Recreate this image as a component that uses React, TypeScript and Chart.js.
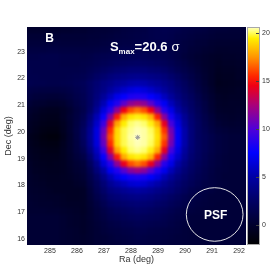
import React, { useEffect, useRef } from 'react';
import { Chart, registerables } from 'chart.js';

Chart.register(...registerables);

const FONT = '"Liberation Sans", Arial, Helvetica, sans-serif';
Chart.defaults.font.family = FONT;

// Cell centres of the significance map (deg)
const raCenters = [284.25, 284.5, 284.75, 285, 285.25, 285.5, 285.75, 286, 286.25, 286.5, 286.75, 287, 287.25, 287.5, 287.75, 288, 288.25, 288.5, 288.75, 289, 289.25, 289.5, 289.75, 290, 290.25, 290.5, 290.75, 291, 291.25, 291.5, 291.75, 292, 292.25];
const decCenters = [23.8, 23.55, 23.3, 23.05, 22.8, 22.55, 22.3, 22.05, 21.8, 21.55, 21.3, 21.05, 20.8, 20.55, 20.3, 20.05, 19.8, 19.55, 19.3, 19.05, 18.8, 18.55, 18.3, 18.05, 17.8, 17.55, 17.3, 17.05, 16.8, 16.55, 16.3, 16.05, 15.8];

// Significance (sigma): one row per decCenters entry, one column per raCenters entry
const significance = [
  [0, 0, 0, 0, 0, 0.1, 0.1, 0.2, 0.2, 0.3, 0.4, 0.4, 0.5, 0.6, 0.8, 0.9, 1, 1.1, 1.3, 1.4, 1.5, 1.4, 1.3, 1.1, 1, 0.9, 0.8, 0.6, 0.5, 0.5, 0.4, 0.4, 0.3],
  [0.3, 0.3, 0.3, 0.3, 0.3, 0.4, 0.4, 0.4, 0.4, 0.5, 0.5, 0.6, 0.7, 0.8, 0.9, 1, 1.1, 1.2, 1.3, 1.4, 1.4, 1.3, 1.1, 1, 0.8, 0.7, 0.6, 0.4, 0.3, 0.3, 0.3, 0.3, 0.2],
  [0.6, 0.6, 0.6, 0.6, 0.7, 0.6, 0.6, 0.6, 0.6, 0.7, 0.7, 0.8, 0.9, 1, 1.1, 1.1, 1.2, 1.3, 1.3, 1.3, 1.4, 1.2, 1, 0.8, 0.7, 0.5, 0.4, 0.2, 0.1, 0.1, 0.1, 0.1, 0.2],
  [0.9, 0.9, 0.9, 1, 1, 0.9, 0.9, 0.9, 0.9, 0.9, 1, 1.1, 1.2, 1.3, 1.4, 1.4, 1.5, 1.5, 1.5, 1.5, 1.4, 1.2, 1, 0.8, 0.5, 0.4, 0.2, 0.1, -0.1, -0.1, 0, 0, 0.1],
  [1.2, 1.2, 1.3, 1.3, 1.3, 1.2, 1.2, 1.2, 1.1, 1.2, 1.4, 1.5, 1.6, 1.7, 1.7, 1.8, 1.8, 1.8, 1.7, 1.7, 1.6, 1.3, 1, 0.7, 0.4, 0.2, 0, -0.2, -0.3, -0.2, -0.2, -0.1, 0],
  [1.3, 1.3, 1.3, 1.3, 1.3, 1.2, 1.2, 1.2, 1.3, 1.4, 1.6, 1.8, 2, 2.2, 2.3, 2.4, 2.5, 2.4, 2.3, 2.2, 2, 1.7, 1.3, 1, 0.6, 0.3, 0, -0.2, -0.4, -0.3, -0.3, -0.2, -0.1],
  [1.4, 1.3, 1.3, 1.3, 1.3, 1.3, 1.3, 1.3, 1.4, 1.7, 2, 2.3, 2.6, 2.9, 3, 3.2, 3.2, 3.2, 3, 2.9, 2.6, 2.2, 1.7, 1.3, 0.9, 0.5, 0.1, -0.2, -0.5, -0.4, -0.4, -0.3, -0.2],
  [1.4, 1.4, 1.3, 1.3, 1.3, 1.3, 1.4, 1.5, 1.6, 2, 2.5, 2.9, 3.3, 3.6, 3.8, 4, 4.1, 4, 3.8, 3.6, 3.3, 2.8, 2.3, 1.7, 1.2, 0.7, 0.2, -0.2, -0.6, -0.5, -0.5, -0.3, -0.2],
  [1.5, 1.4, 1.4, 1.3, 1.3, 1.4, 1.5, 1.7, 1.9, 2.5, 3, 3.6, 4, 4.5, 4.8, 5.2, 5.3, 5.2, 4.8, 4.5, 4, 3.5, 2.8, 2.2, 1.5, 0.9, 0.3, -0.2, -0.7, -0.6, -0.5, -0.4, -0.3],
  [1.1, 1, 0.9, 0.9, 0.9, 1, 1.2, 1.5, 1.8, 2.5, 3.2, 3.8, 4.7, 5.4, 6, 6.5, 6.8, 6.5, 6, 5.4, 4.7, 3.9, 3.2, 2.5, 1.8, 1.1, 0.5, 0, -0.5, -0.5, -0.4, -0.3, -0.2],
  [0.8, 0.6, 0.5, 0.4, 0.4, 0.6, 0.9, 1.3, 1.7, 2.5, 3.4, 4.5, 5.7, 6.9, 7.6, 8.3, 8.5, 8.3, 7.6, 6.9, 5.7, 4.6, 3.6, 2.8, 2.2, 1.4, 0.7, 0.2, -0.3, -0.4, -0.3, -0.3, -0.2],
  [0.4, 0.2, 0.1, -0.1, -0.1, 0.1, 0.6, 1.1, 1.6, 2.5, 3.8, 5.4, 7.2, 8.5, 10.3, 11.7, 12.2, 11.7, 10.3, 8.5, 7.2, 5.6, 4.3, 3.2, 2.5, 1.7, 1, 0.3, -0.2, -0.3, -0.2, -0.2, -0.1],
  [0, -0.2, -0.5, -0.6, -0.6, -0.3, 0.2, 0.8, 1.4, 2.7, 4.4, 6.5, 8.7, 11.7, 14.5, 16.2, 16.9, 16.2, 14.5, 11.7, 8.7, 6.8, 5, 3.7, 2.7, 1.9, 1.1, 0.4, -0.1, -0.2, -0.2, -0.1, 0],
  [-0.2, -0.4, -0.7, -0.8, -0.8, -0.3, 0.3, 0.9, 1.7, 3.3, 5.4, 7.8, 11.5, 15.2, 18, 19.2, 19.5, 19.2, 18.1, 15.3, 11.5, 8.2, 6, 4.3, 3, 2.1, 1.3, 0.7, 0.1, 0, -0.1, 0, 0.1],
  [-0.4, -0.6, -0.9, -1, -1, -0.5, 0.2, 1, 2, 3.8, 6, 9.3, 14, 17.8, 19.4, 20.1, 20.3, 20.1, 19.5, 18, 14.2, 9.7, 6.7, 4.7, 3.2, 2.3, 1.5, 0.9, 0.4, 0.2, 0.1, 0.2, 0.2],
  [-0.5, -0.8, -1.1, -1.2, -1.2, -0.6, 0.2, 1.1, 2.3, 4.2, 6.6, 10.6, 15.5, 18.9, 19.9, 20.3, 20.5, 20.4, 20, 18.9, 15.7, 11, 7.2, 5.1, 3.3, 2.3, 1.7, 1.1, 0.7, 0.5, 0.3, 0.3, 0.4],
  [-0.7, -1, -1.3, -1.5, -1.5, -0.8, 0.1, 1, 2.3, 4.3, 6.6, 11, 16.1, 19, 19.9, 20.4, 20.6, 20.4, 20.1, 19.1, 16.4, 11.4, 7.3, 5.1, 3.3, 2.3, 1.8, 1.3, 0.9, 0.7, 0.5, 0.5, 0.5],
  [-0.6, -0.9, -1.1, -1.2, -1.2, -0.6, 0.1, 0.9, 2.1, 4.1, 6.5, 10.5, 15.5, 18.9, 19.9, 20.3, 20.5, 20.4, 20, 18.9, 15.7, 11, 7.2, 5.1, 3.3, 2.4, 1.8, 1.3, 0.9, 0.7, 0.5, 0.5, 0.5],
  [-0.5, -0.7, -0.9, -1, -1, -0.5, 0.1, 0.8, 1.7, 3.6, 5.8, 9.3, 14, 17.8, 19.4, 20.1, 20.3, 20.1, 19.5, 18, 14.2, 9.7, 6.7, 4.7, 3.2, 2.4, 1.8, 1.3, 0.9, 0.7, 0.5, 0.5, 0.5],
  [-0.4, -0.6, -0.8, -0.8, -0.8, -0.5, 0, 0.6, 1.2, 2.9, 5.2, 7.7, 11.5, 15.2, 18, 19.2, 19.5, 19.2, 18.1, 15.3, 11.5, 8.2, 6, 4.3, 3, 2.3, 1.7, 1.2, 0.8, 0.6, 0.5, 0.5, 0.5],
  [-0.3, -0.5, -0.6, -0.7, -0.6, -0.5, -0.1, 0.3, 0.7, 2.2, 4, 6.4, 8.7, 11.7, 14.3, 16.2, 16.9, 16.2, 14.3, 11.7, 8.7, 6.8, 5, 3.7, 2.7, 2.1, 1.6, 1.1, 0.8, 0.6, 0.5, 0.5, 0.5],
  [-0.2, -0.4, -0.5, -0.6, -0.6, -0.5, -0.2, 0.2, 0.5, 1.7, 3.3, 5, 7.1, 8.5, 10.2, 11.6, 12.2, 11.6, 10.2, 8.5, 7, 5.5, 4.2, 3.2, 2.5, 1.9, 1.4, 1, 0.7, 0.6, 0.5, 0.5, 0.5],
  [-0.1, -0.3, -0.4, -0.5, -0.5, -0.4, -0.3, 0, 0.3, 1.3, 2.5, 3.9, 5.4, 6.6, 7.4, 8.1, 8.3, 8.1, 7.4, 6.6, 5.4, 4.4, 3.5, 2.8, 2.2, 1.7, 1.3, 0.9, 0.7, 0.5, 0.5, 0.5, 0.5],
  [-0.1, -0.2, -0.3, -0.4, -0.4, -0.4, -0.4, -0.2, 0, 1, 2, 3.1, 4.3, 5.1, 5.6, 6.2, 6.4, 6.2, 5.6, 5.1, 4.3, 3.6, 3, 2.4, 1.9, 1.5, 1.1, 0.9, 0.7, 0.6, 0.5, 0.5, 0.5],
  [0, -0.1, -0.2, -0.3, -0.4, -0.4, -0.4, -0.4, -0.3, 0.7, 1.7, 2.6, 3.5, 3.9, 4.3, 4.6, 4.8, 4.6, 4.3, 3.9, 3.5, 3.1, 2.6, 2.1, 1.5, 1.2, 1, 0.8, 0.6, 0.6, 0.5, 0.5, 0.5],
  [0.1, 0, -0.1, -0.2, -0.2, -0.3, -0.4, -0.4, -0.3, 0.5, 1.3, 2.1, 2.9, 3.2, 3.5, 3.7, 3.8, 3.7, 3.5, 3.2, 2.9, 2.5, 2.1, 1.6, 1.2, 1, 0.8, 0.6, 0.6, 0.5, 0.5, 0.5, 0.5],
  [0.2, 0.1, 0, 0, -0.1, -0.2, -0.3, -0.3, -0.3, 0.3, 0.9, 1.6, 2.3, 2.6, 2.8, 3, 3.1, 3, 2.9, 2.6, 2.4, 2, 1.7, 1.3, 1, 0.8, 0.7, 0.6, 0.5, 0.5, 0.5, 0.5, 0.5],
  [0.2, 0.2, 0.2, 0.1, 0.1, 0, -0.1, -0.2, -0.3, 0.2, 0.7, 1.2, 1.7, 2, 2.2, 2.4, 2.6, 2.5, 2.3, 2.1, 1.9, 1.6, 1.3, 1, 0.8, 0.7, 0.6, 0.5, 0.5, 0.5, 0.5, 0.5, 0.5],
  [0.3, 0.3, 0.3, 0.3, 0.3, 0.2, 0, -0.1, -0.2, 0.2, 0.6, 1, 1.4, 1.6, 1.8, 2, 2.1, 2, 1.9, 1.8, 1.6, 1.3, 1.1, 0.9, 0.6, 0.6, 0.5, 0.5, 0.5, 0.5, 0.5, 0.5, 0.5],
  [0.3, 0.3, 0.3, 0.3, 0.3, 0.2, 0, -0.1, -0.2, 0.1, 0.4, 0.7, 1, 1.2, 1.4, 1.5, 1.7, 1.6, 1.5, 1.4, 1.3, 1.1, 0.9, 0.7, 0.6, 0.5, 0.5, 0.5, 0.5, 0.5, 0.5, 0.5, 0.5],
  [0.3, 0.3, 0.3, 0.3, 0.3, 0.2, 0.1, 0, -0.2, 0.1, 0.3, 0.6, 0.8, 0.9, 1.1, 1.2, 1.3, 1.3, 1.2, 1.1, 1, 0.9, 0.8, 0.6, 0.5, 0.5, 0.5, 0.5, 0.5, 0.5, 0.5, 0.5, 0.5],
  [0.3, 0.3, 0.3, 0.3, 0.3, 0.2, 0.1, 0, -0.1, 0.1, 0.3, 0.4, 0.6, 0.8, 0.9, 1, 1.2, 1.1, 1, 1, 0.9, 0.8, 0.7, 0.6, 0.5, 0.5, 0.5, 0.5, 0.5, 0.5, 0.5, 0.5, 0.5],
  [0.3, 0.3, 0.3, 0.3, 0.3, 0.2, 0.2, 0.1, 0, 0.1, 0.3, 0.4, 0.5, 0.6, 0.8, 0.9, 1, 1, 0.9, 0.9, 0.8, 0.7, 0.7, 0.6, 0.5, 0.5, 0.5, 0.5, 0.5, 0.5, 0.5, 0.5, 0.5],
];

const raTicks = [285, 286, 287, 288, 289, 290, 291, 292];
const decTicks = [16, 17, 18, 19, 20, 21, 22, 23];
const colorbarTicks = [0, 5, 10, 15, 20];

const peakRa = 288.25;
const peakDec = 19.8;
const sMax = 20.6;
const panelLabel = 'B';
const psfRa = 291.1;
const psfDec = 16.92;
const psfRadiusRa = 1.05;
const psfRadiusDec = 1.0;

// axis ranges
const RA_MIN = 284.15;
const RA_MAX = 292.26;
const DEC_MIN = 15.78;
const DEC_MAX = 23.92;
const CB_MIN = -2.1;
const CB_MAX = 20.6;
const CELL_DEG = 0.25;
const HEAT_INDEX = 1;

// colour map (value -> rgb)
const colorStops: [number, [number, number, number]][] = [
  [-2.1, [0, 0, 0]],
  [0, [0, 0, 45]],
  [2.5, [0, 0, 100]],
  [5, [0, 0, 165]],
  [7.5, [0, 0, 255]],
  [10, [80, 0, 215]],
  [12.5, [170, 0, 120]],
  [14.5, [240, 0, 20]],
  [15.5, [255, 40, 0]],
  [17.5, [255, 150, 0]],
  [19.4, [255, 238, 0]],
  [20.1, [255, 255, 110]],
  [20.6, [255, 255, 200]],
];

function rgb(c: number[]) {
  return `rgb(${Math.round(c[0])},${Math.round(c[1])},${Math.round(c[2])})`;
}

function colorAt(v: number) {
  if (v <= colorStops[0][0]) return rgb(colorStops[0][1]);
  for (let k = 1; k < colorStops.length; k++) {
    const [v1, c1] = colorStops[k];
    if (v <= v1) {
      const [v0, c0] = colorStops[k - 1];
      const t = (v - v0) / (v1 - v0);
      return rgb([0, 1, 2].map((q) => c0[q] + (c1[q] - c0[q]) * t));
    }
  }
  return rgb(colorStops[colorStops.length - 1][1]);
}

function cellRadius(c: any) {
  const xs = c.chart.scales.x;
  const ys = c.chart.scales.y;
  if (!xs || !ys) return 4;
  const w = Math.abs(xs.getPixelForValue(RA_MIN + CELL_DEG) - xs.getPixelForValue(RA_MIN));
  const h = Math.abs(ys.getPixelForValue(DEC_MIN + CELL_DEG) - ys.getPixelForValue(DEC_MIN));
  const side = Math.max(w, h) + 0.8;
  return Number.isFinite(side) && side > 1 ? side / (2 * Math.SQRT1_2) : 4;
}

const overlayPlugin = {
  id: 'mapOverlay',
  // smooth the cell mosaic like an interpolated image display
  afterDatasetDraw(chart: any, args: any) {
    if (args.index !== HEAT_INDEX) return;
    const { ctx, chartArea: a, canvas } = chart;
    const tmp = document.createElement('canvas');
    tmp.width = canvas.width;
    tmp.height = canvas.height;
    const tctx = tmp.getContext('2d');
    if (!tctx) return;
    tctx.drawImage(canvas, 0, 0);
    ctx.save();
    ctx.setTransform(1, 0, 0, 1, 0, 0);
    const r = chart.currentDevicePixelRatio || 1;
    ctx.beginPath();
    ctx.rect(a.left * r, a.top * r, (a.right - a.left) * r, (a.bottom - a.top) * r);
    ctx.clip();
    ctx.filter = `blur(${1.8 * r}px)`;
    ctx.drawImage(tmp, 0, 0);
    ctx.filter = 'none';
    ctx.restore();
  },
  afterDatasetsDraw(chart: any) {
    const { ctx, chartArea: a, scales } = chart;
    const xs = scales.x;
    const ys = scales.y;
    ctx.save();
    ctx.beginPath();
    ctx.rect(a.left, a.top, a.right - a.left, a.bottom - a.top);
    ctx.clip();

    // PSF circle
    const cx = xs.getPixelForValue(psfRa);
    const cy = ys.getPixelForValue(psfDec);
    const rx = Math.abs(xs.getPixelForValue(psfRa + psfRadiusRa) - cx);
    const ry = Math.abs(ys.getPixelForValue(psfDec + psfRadiusDec) - cy);
    ctx.strokeStyle = 'rgba(240,240,240,0.95)';
    ctx.lineWidth = 1;
    ctx.beginPath();
    ctx.ellipse(cx, cy, rx, ry, 0, 0, Math.PI * 2);
    ctx.stroke();

    ctx.fillStyle = '#ffffff';
    ctx.font = `bold 12px ${FONT}`;
    ctx.textAlign = 'center';
    ctx.textBaseline = 'middle';
    ctx.fillText('PSF', cx + 1, cy + 1);

    // panel label
    ctx.textAlign = 'left';
    ctx.textBaseline = 'alphabetic';
    ctx.font = `bold 12px ${FONT}`;
    ctx.fillText(panelLabel, xs.getPixelForValue(284.83), ys.getPixelForValue(23.37));

    // S_max text
    let tx = xs.getPixelForValue(287.22);
    const ty = ys.getPixelForValue(23.04);
    ctx.font = `bold 13px ${FONT}`;
    ctx.fillText('S', tx, ty);
    tx += ctx.measureText('S').width;
    ctx.font = `bold 8px ${FONT}`;
    ctx.fillText('max', tx, ty + 3);
    tx += ctx.measureText('max').width;
    ctx.font = `bold 13px ${FONT}`;
    const val = `=${sMax.toFixed(1)}`;
    ctx.fillText(val, tx, ty);
    tx += ctx.measureText(val).width + 4;
    ctx.font = `13px ${FONT}`;
    ctx.fillText('\u03C3', tx, ty);
    ctx.restore();
  },
  afterDraw(chart: any) {
    const { ctx, chartArea: a } = chart;
    const cb = chart.scales.cb;
    if (!cb) return;
    const x0 = a.right + 1;
    const w = 13;
    const yTop = cb.getPixelForValue(CB_MAX);
    const yBot = cb.getPixelForValue(CB_MIN);
    ctx.save();
    const g = ctx.createLinearGradient(0, yBot, 0, yTop);
    colorStops.forEach(([v, c]) => {
      const t = Math.min(1, Math.max(0, (v - CB_MIN) / (CB_MAX - CB_MIN)));
      g.addColorStop(t, rgb(c));
    });
    ctx.fillStyle = g;
    ctx.fillRect(x0, yTop, w, yBot - yTop);
    ctx.strokeStyle = '#a8a8a8';
    ctx.lineWidth = 1;
    ctx.strokeRect(x0 + 0.5, yTop + 0.5, w - 1, yBot - yTop - 1);
    ctx.strokeStyle = '#404040';
    ctx.beginPath();
    colorbarTicks.forEach((v) => {
      const y = Math.round(cb.getPixelForValue(v)) + 0.5;
      ctx.moveTo(x0 + w - 4, y);
      ctx.lineTo(x0 + w - 1, y);
    });
    ctx.stroke();
    ctx.restore();
  },
};

export default function App() {
  const ref = useRef<HTMLCanvasElement>(null);

  useEffect(() => {
    if (!ref.current) return;
    const cells: { x: number; y: number; v: number }[] = [];
    decCenters.forEach((dec, j) => {
      const row = significance[j] || [];
      raCenters.forEach((ra, i) => {
        if (row[i] !== undefined) cells.push({ x: ra, y: dec, v: row[i] });
      });
    });

    const tickFont = { family: FONT, size: 7 };
    const chart = new Chart(ref.current, {
      type: 'scatter',
      data: {
        datasets: [
          {
            label: 'peak',
            data: [{ x: peakRa, y: peakDec }],
            order: 1,
            pointStyle: 'star',
            pointRadius: 2.5,
            pointHoverRadius: 2.5,
            pointBorderColor: '#9a9a9a',
            pointBorderWidth: 1,
            pointBackgroundColor: 'rgba(0,0,0,0)',
          } as any,
          {
            label: 'significance',
            data: cells,
            order: 2,
            pointStyle: 'rect',
            pointRadius: cellRadius,
            pointHoverRadius: cellRadius,
            pointBackgroundColor: (c: any) => colorAt(c.raw ? c.raw.v : 0),
            pointBorderWidth: 0,
            borderWidth: 0,
            clip: 0,
          } as any,
        ],
      },
      options: {
        responsive: false,
        animation: false,
        events: [],
        layout: { padding: { top: 27, left: 0, right: 0, bottom: 0 } },
        plugins: { legend: { display: false }, tooltip: { enabled: false } },
        scales: {
          x: {
            type: 'linear',
            position: 'bottom',
            min: RA_MIN,
            max: RA_MAX,
            grid: { display: false, drawTicks: false },
            border: { display: false },
            ticks: { font: tickFont, color: '#333', padding: 2, maxRotation: 0, autoSkip: false },
            afterBuildTicks: (s: any) => {
              s.ticks = raTicks.map((v) => ({ value: v }));
            },
            afterFit: (s: any) => {
              s.height = 28;
            },
            title: { display: true, text: 'Ra (deg)', color: '#333', font: { family: FONT, size: 9 }, padding: { top: 0, bottom: 8.5 } },
          },
          y: {
            type: 'linear',
            position: 'left',
            min: DEC_MIN,
            max: DEC_MAX,
            grid: { display: false, drawTicks: false },
            border: { display: false },
            ticks: { font: tickFont, color: '#333', padding: 2, autoSkip: false },
            afterBuildTicks: (s: any) => {
              s.ticks = decTicks.map((v) => ({ value: v }));
            },
            afterFit: (s: any) => {
              s.width = 27;
            },
            title: { display: true, text: 'Dec (deg)', color: '#333', font: { family: FONT, size: 9 }, padding: { top: 3.5, bottom: 0 } },
          },
          cb: {
            type: 'linear',
            position: 'right',
            min: CB_MIN,
            max: CB_MAX,
            grid: { display: false, drawTicks: false },
            border: { display: false },
            ticks: { font: tickFont, color: '#333', padding: 16, autoSkip: false },
            afterBuildTicks: (s: any) => {
              s.ticks = colorbarTicks.map((v) => ({ value: v }));
            },
            afterFit: (s: any) => {
              s.width = 27;
            },
          },
        },
      } as any,
      plugins: [overlayPlugin],
    });
    return () => chart.destroy();
  }, []);

  return (
    <div style={{ position: 'fixed', left: 0, top: 0, width: 273, height: 273, background: '#fff' }}>
      <canvas ref={ref} width={273} height={273} style={{ display: 'block' }} />
    </div>
  );
}
